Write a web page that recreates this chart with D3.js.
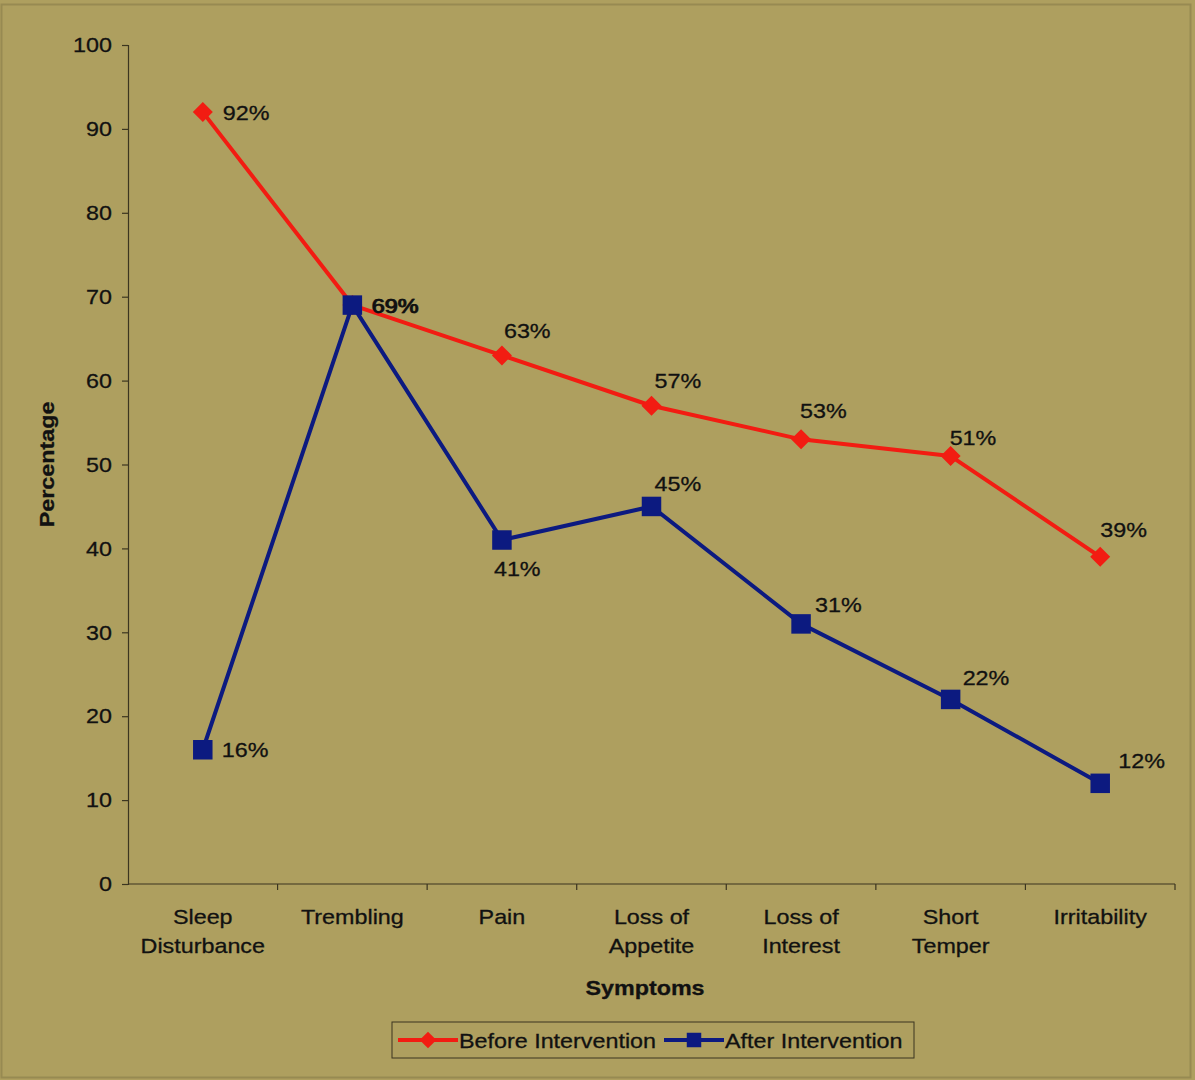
<!DOCTYPE html>
<html>
<head>
<meta charset="utf-8">
<script src="https://cdn.jsdelivr.net/npm/d3@7"></script>
<style>
  html, body { margin: 0; padding: 0; background: #ae9f5f; }
  svg { display: block; font-family: "Liberation Sans", Arial, sans-serif; }
  svg text { fill: #111; stroke: #111; stroke-width: 0.3px; }
</style>
</head>
<body>
<svg id="chart" width="1195" height="1080"></svg>
<script>
// Symptom prevalence before and after the intervention (percent of participants)
const categories = [
  ["Sleep", "Disturbance"],
  ["Trembling"],
  ["Pain"],
  ["Loss of", "Appetite"],
  ["Loss of", "Interest"],
  ["Short", "Temper"],
  ["Irritability"]
];
const beforeValues = [92, 69, 63, 57, 53, 51, 39];
const afterValues = [16, 69, 41, 45, 31, 22, 12];
const yTicks = [0, 10, 20, 30, 40, 50, 60, 70, 80, 90, 100];
const seriesNames = ["Before Intervention", "After Intervention"];

const svg = d3.select("#chart");
const W = 1195, H = 1080;
const margin = { left: 128, right: 20, top: 45, bottom: 196 };
const FONT = 21;

// background and outer frame
svg.append("rect").attr("width", W).attr("height", H).attr("fill", "#ae9f5f");
svg.append("rect").attr("x", 1.5).attr("y", 4.5).attr("width", W - 6).attr("height", H - 7)
  .attr("fill", "none").attr("stroke", "#978a52").attr("stroke-width", 2);

const x = d3.scaleBand()
  .domain(d3.range(categories.length))
  .range([margin.left, W - margin.right])
  .paddingInner(0).paddingOuter(0);
const y = d3.scaleLinear().domain([0, 100]).range([H - margin.bottom, margin.top]);
const cx = i => x(i) + x.bandwidth() / 2;

const axisColor = "#3b3520";

// y axis
const yAxis = svg.append("g")
  .attr("transform", `translate(${margin.left},0)`)
  .call(d3.axisLeft(y).tickValues(yTicks).tickSize(6).tickPadding(10));
yAxis.select(".domain").attr("stroke", axisColor).attr("stroke-width", 1.2);
yAxis.selectAll(".tick line").attr("stroke", axisColor).attr("stroke-width", 1.2);
yAxis.selectAll(".tick text")
  .attr("font-size", FONT).attr("font-family", "Liberation Sans, Arial, sans-serif");

// x axis: ticks sit between categories
const xAxisG = svg.append("g").attr("transform", `translate(0,${y(0)})`);
xAxisG.append("line")
  .attr("x1", margin.left).attr("x2", W - margin.right)
  .attr("stroke", axisColor).attr("stroke-width", 1.2);
xAxisG.selectAll("line.tk")
  .data(d3.range(1, categories.length + 1))
  .join("line").attr("class", "tk")
  .attr("x1", d => x(d - 1) + x.bandwidth()).attr("x2", d => x(d - 1) + x.bandwidth())
  .attr("y1", 0).attr("y2", 6)
  .attr("stroke", axisColor).attr("stroke-width", 1.2);
const catLabels = xAxisG.selectAll("text.cat")
  .data(categories)
  .join("text").attr("class", "cat")
  .attr("x", (d, i) => cx(i))
  .attr("text-anchor", "middle")
  .attr("font-size", FONT);
catLabels.each(function(lines) {
  d3.select(this).selectAll("tspan").data(lines).join("tspan")
    .attr("x", d3.select(this).attr("x"))
    .attr("y", (d, j) => 40 + j * 29)
    .text(d => d);
});

// axis titles
svg.append("text")
  .attr("transform", `translate(54,${(y(0) + y(100)) / 2}) rotate(-90)`)
  .attr("text-anchor", "middle").attr("font-size", FONT).attr("font-weight", "bold")
  .text("Percentage");
svg.append("text")
  .attr("x", 645).attr("y", 995)
  .attr("text-anchor", "middle").attr("font-size", FONT).attr("font-weight", "bold")
  .text("Symptoms");

const red = "#f21c12", blue = "#0c1a80";
const line = d3.line().x((d, i) => cx(i)).y(d => y(d));

// markers: a square turned 45° for the diamond, an upright square for the other series
const markers = {
  diamond: { type: d3.symbolSquare, rotate: 45 },
  square: { type: d3.symbolSquare, rotate: 0 }
};

function drawSeries(values, color, marker, markerSize, labelNudge) {
  const g = svg.append("g");
  g.append("path").datum(values)
    .attr("d", line).attr("fill", "none")
    .attr("stroke", color).attr("stroke-width", 4).attr("stroke-linejoin", "round");
  g.selectAll("path.m").data(values).join("path").attr("class", "m")
    .attr("transform", (d, i) => `translate(${cx(i)},${y(d)}) rotate(${marker.rotate})`)
    .attr("d", d3.symbol().type(marker.type).size(markerSize))
    .attr("fill", color);
  g.selectAll("text.v").data(values).join("text").attr("class", "v")
    .attr("x", (d, i) => cx(i) + labelNudge[i][0])
    .attr("y", (d, i) => y(d) + labelNudge[i][1])
    .attr("dominant-baseline", "central")
    .attr("font-size", FONT)
    .text(d => d + "%");
}

// label nudges relative to each marker [dx, dy]
drawSeries(beforeValues, red, markers.diamond, 200,
  [[20, 0], [20, 0], [2, -25], [3, -25], [-1, -29], [-1, -19], [0, -27]]);
drawSeries(afterValues, blue, markers.square, 380,
  [[19, 0], [19, 0], [-8, 28], [3, -23], [14, -19], [12, -22], [18, -23]]);

// legend
const lg = svg.append("g").attr("transform", "translate(392,1022)");
lg.append("rect").attr("width", 522).attr("height", 36)
  .attr("fill", "none").attr("stroke", axisColor).attr("stroke-width", 1);
const legendItems = [
  { name: seriesNames[0], color: red, marker: markers.diamond, size: 140, x: 6 },
  { name: seriesNames[1], color: blue, marker: markers.square, size: 210, x: 272 }
];
legendItems.forEach(it => {
  const gi = lg.append("g").attr("transform", `translate(${it.x},18)`);
  gi.append("line").attr("x1", 0).attr("x2", 60).attr("stroke", it.color).attr("stroke-width", 4);
  gi.append("path").attr("transform", `translate(30,0) rotate(${it.marker.rotate})`)
    .attr("d", d3.symbol().type(it.marker.type).size(it.size)).attr("fill", it.color);
  gi.append("text").attr("x", 61).attr("dominant-baseline", "central")
    .attr("font-size", FONT).text(it.name);
});

// the chart's face is a wide grotesque: widen every run of text a little
function widen(node, factor) {
  const w = node.getComputedTextLength();
  if (w > 0) {
    node.setAttribute("textLength", (w * factor).toFixed(1));
    node.setAttribute("lengthAdjust", "spacingAndGlyphs");
  }
}
svg.selectAll("text").each(function() {
  const spans = this.querySelectorAll("tspan");
  if (spans.length) spans.forEach(s => widen(s, 1.11));
  else widen(this, 1.11);
});
</script>
</body>
</html>
